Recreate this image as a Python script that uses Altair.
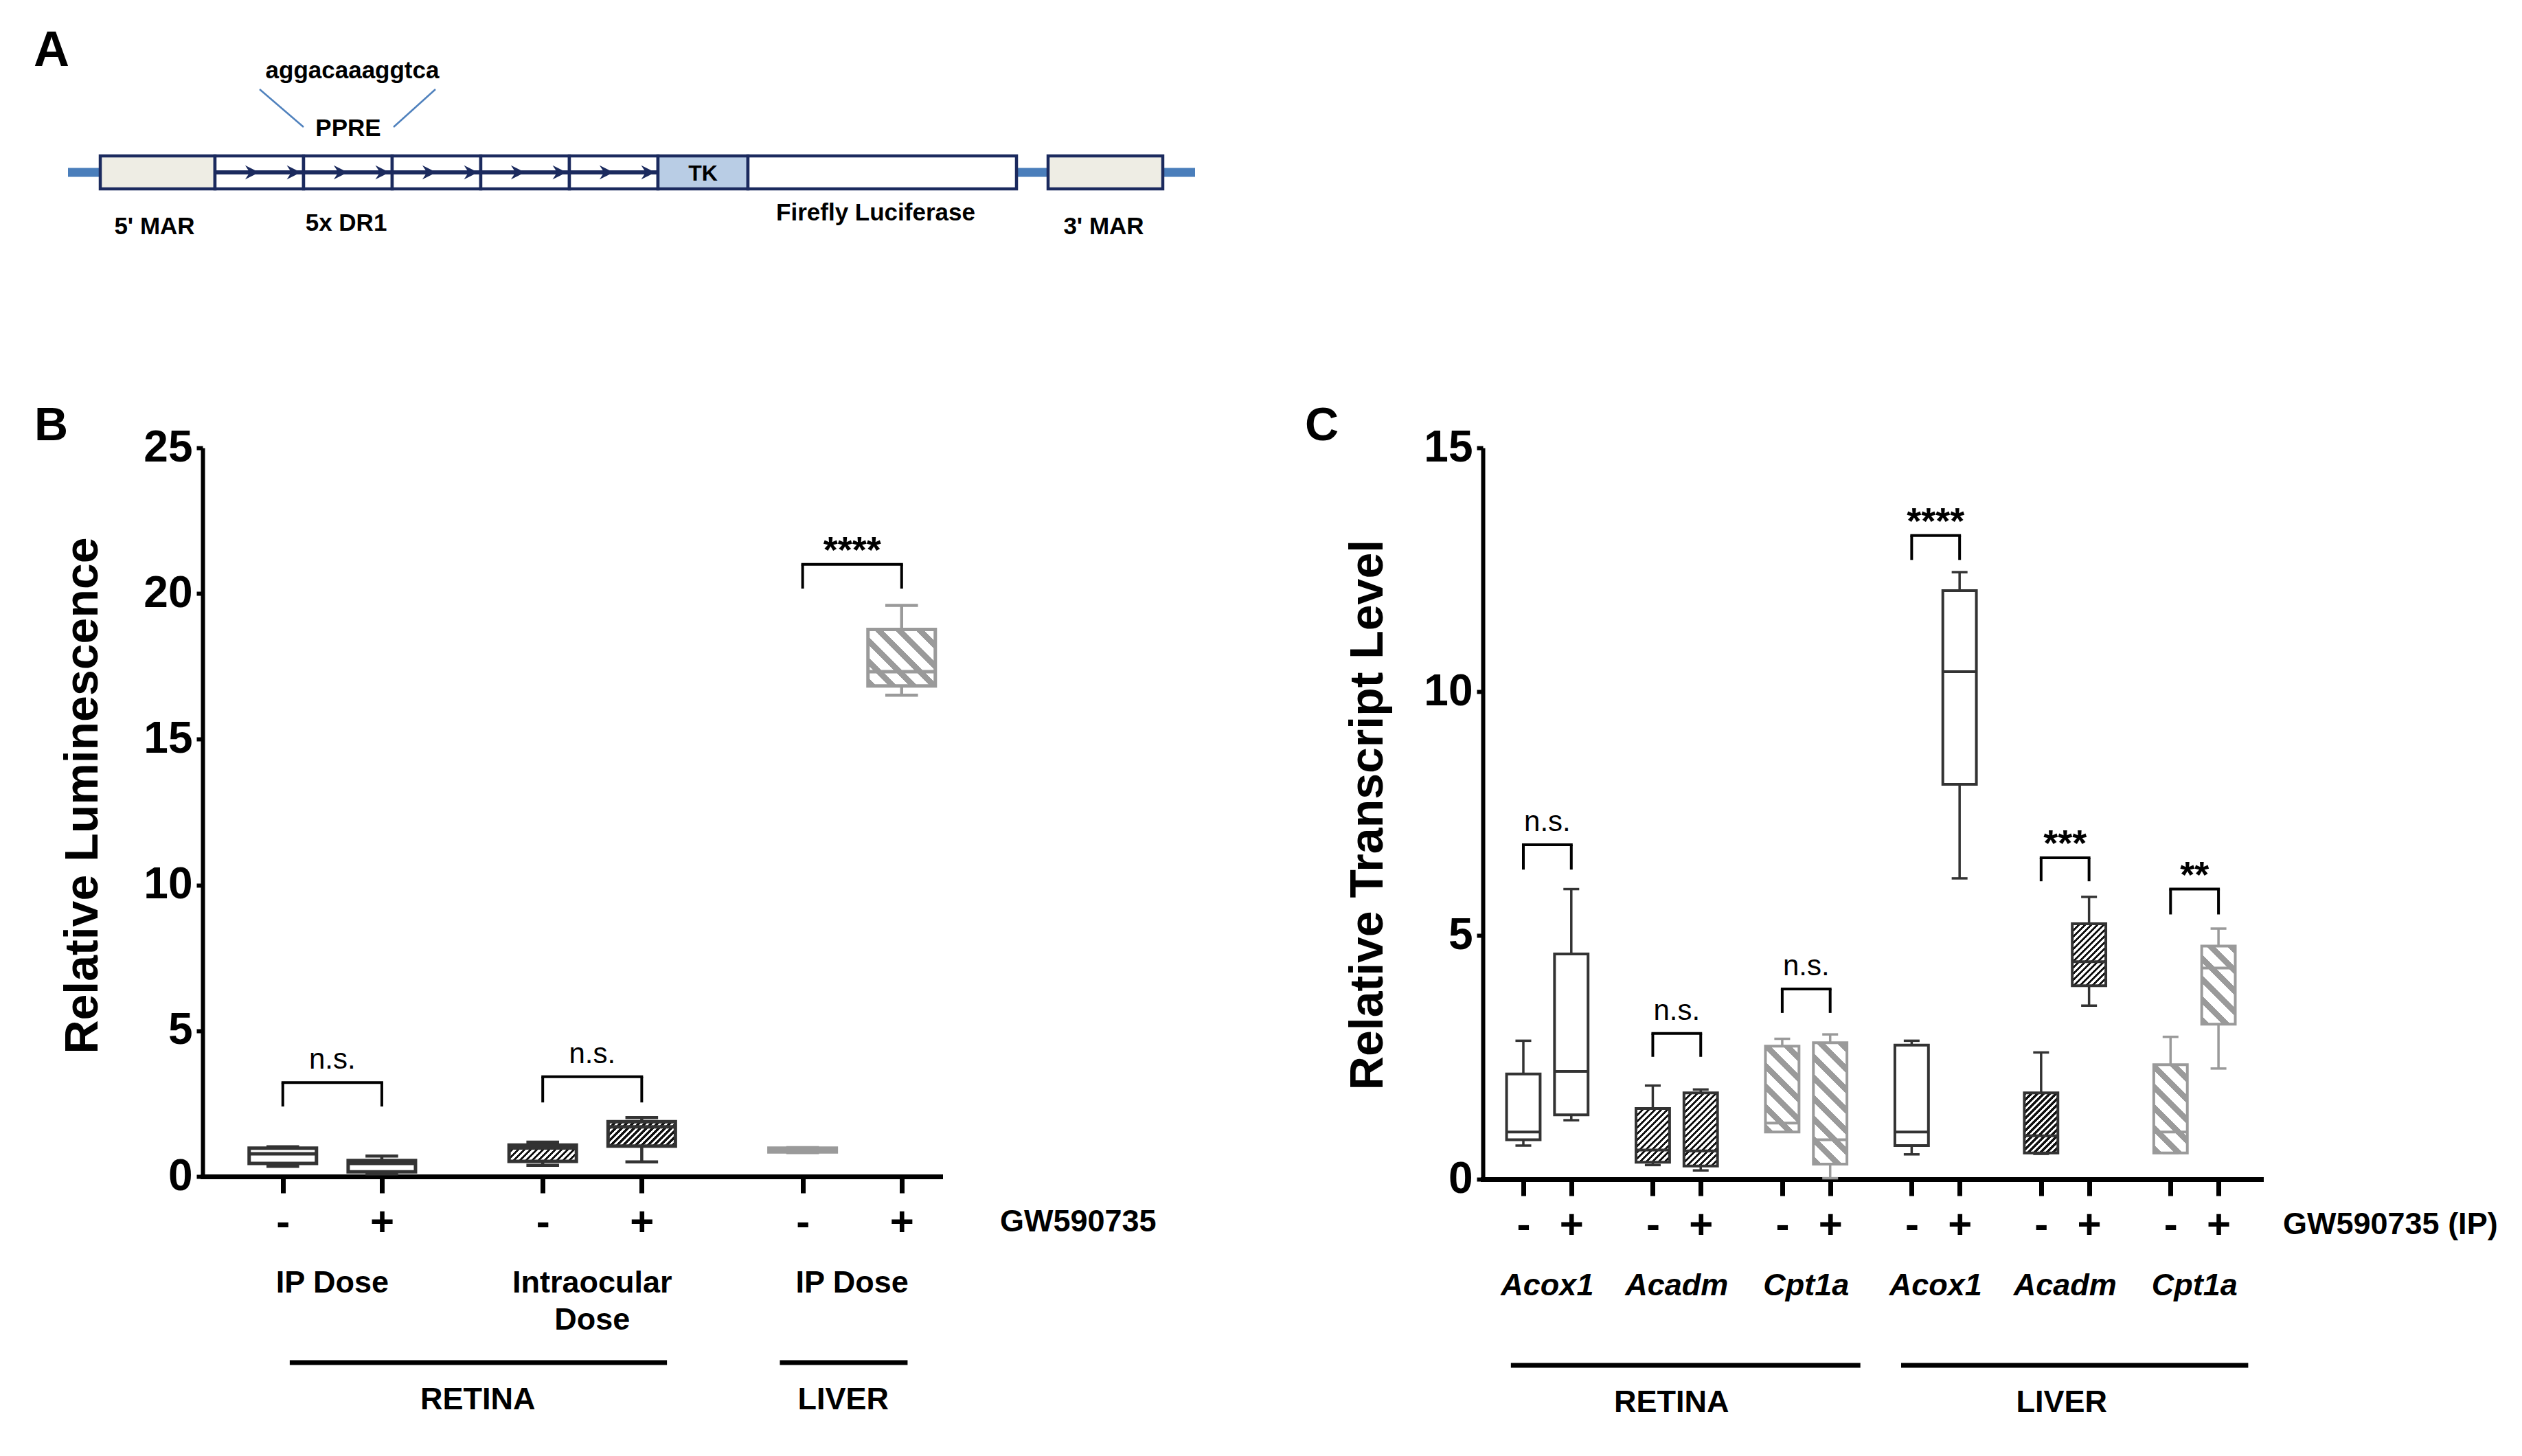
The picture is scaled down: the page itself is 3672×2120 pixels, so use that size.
import altair as alt
import pandas as pd

FONT = "Liberation Sans"
NAVY = "#1B2A5E"
DARK = "#333333"
GREY = "#9A9A9A"

# ---------------- Panel A : reporter construct ----------------
A_names = ["5' MAR", "DR1", "DR1", "DR1", "DR1", "DR1", "TK", "Firefly Luciferase", "spacer", "3' MAR"]
A_kinds = ["mar", "dr1", "dr1", "dr1", "dr1", "dr1", "tk", "luc", "spacer", "mar"]
A_lengths = [167, 129, 129, 129, 129, 129, 131, 391, 46, 167]
A_insert_start = 47
A_backbone = 1641
A_labels = ["5' MAR", "5x DR1", "Firefly Luciferase", "3' MAR"]
A_label_x = [126, 405, 1176, 1508]
A_label_base = [245, 240, 225, 245]
A_sequence = "aggacaaaggtca"

# ---------------- Panel B : luciferase ----------------
B_groups = ["IP Dose", "Intraocular\nDose", "IP Dose"]
B_kinds = ["open", "dark", "grey"]
B_min = [0.35, 0.09, 0.38, 0.50, 0.82, 16.51]
B_q1 = [0.45, 0.16, 0.52, 1.04, 0.84, 16.83]
B_med = [0.78, 0.45, 0.98, 1.70, 0.90, 17.32]
B_q3 = [0.97, 0.55, 1.08, 1.88, 0.97, 18.77]
B_max = [1.02, 0.70, 1.18, 2.02, 0.99, 19.59]
B_sig = ["n.s.", "n.s.", "****"]
B_br_top = [3.22, 3.42, 21.0]
B_br_leg = [2.40, 2.54, 20.17]
B_tissues = ["RETINA", "LIVER"]
B_tissue_span = [(0.07, 3.88), (5.02, 6.31)]
B_tissue_label_x = [1.97, 5.66]
B_yticks = [0, 5, 10, 15, 20, 25]

# ---------------- Panel C : transcripts ----------------
C_groups = ["Acox1", "Acadm", "Cpt1a", "Acox1", "Acadm", "Cpt1a"]
C_kinds = ["open", "dark", "grey", "open", "dark", "grey"]
C_min = [0.69, 1.21, 0.29, 0.18, 0.97, 0.02, 0.51, 6.17, 0.52, 3.56, 0.54, 2.27]
C_q1 = [0.81, 1.32, 0.35, 0.27, 0.97, 0.31, 0.69, 8.10, 0.54, 3.97, 0.54, 3.18]
C_med = [0.97, 2.21, 0.60, 0.58, 1.15, 0.81, 0.97, 10.41, 0.89, 4.46, 0.97, 4.33]
C_q3 = [2.16, 4.62, 1.45, 1.77, 2.73, 2.80, 2.75, 12.07, 1.77, 5.24, 2.35, 4.78]
C_max = [2.84, 5.95, 1.92, 1.84, 2.88, 2.97, 2.84, 12.45, 2.60, 5.79, 2.92, 5.14]
C_sig = ["n.s.", "n.s.", "n.s.", "****", "***", "**"]
C_br_top = [6.86, 2.99, 3.90, 13.20, 6.59, 5.95]
C_br_leg = [6.35, 2.51, 3.41, 12.70, 6.11, 5.43]
C_tissues = ["RETINA", "LIVER"]
C_tissue_span = [(-0.26, 7.03), (7.88, 15.12)]
C_tissue_label_x = [3.09, 11.23]
C_yticks = [0, 5, 10, 15]


def text_chart(txt, x, y, size, weight="bold", align="left", baseline="alphabetic", style="normal"):
    return alt.Chart(pd.DataFrame({"t": [txt]})).mark_text(
        font=FONT, fontSize=size, fontWeight=weight, fontStyle=style, align=align,
        baseline=baseline, color="black").encode(text="t:N", x=alt.value(x), y=alt.value(y))


# ---------------- build panel A ----------------
starts = []
p = A_insert_start
for L in A_lengths:
    starts.append(p)
    p += L
a_df = pd.DataFrame({"name": A_names, "kind": A_kinds, "x0": starts,
                     "x1": [s + L for s, L in zip(starts, A_lengths)]})
a_df["xc"] = (a_df.x0 + a_df.x1) / 2
a_box = a_df[a_df.kind != "spacer"]
dr1 = a_df[a_df.kind == "dr1"]

A_TOP, A_BOT, A_MID = 131, 179, 155
A_VIEW = [196, A_backbone]          # visible window, aligned with panel B's plot area
xa = alt.Scale(domain=A_VIEW, nice=False, zero=False)


def XA(f):
    return alt.X(f, type="quantitative", scale=xa, axis=None)


backbone = alt.Chart(pd.DataFrame({"x0": [0], "x1": [A_backbone]})).mark_rule(
    color="#4A7EBB", strokeWidth=13).encode(x=XA("x0"), x2="x1", y=alt.value(A_MID))
boxes = alt.Chart(a_box).mark_rect(stroke=NAVY, strokeWidth=4.5).encode(
    x=XA("x0"), x2="x1", y=alt.value(A_TOP), y2=alt.value(A_BOT),
    fill=alt.Fill("kind:N", scale=alt.Scale(domain=["mar", "dr1", "tk", "luc"],
                                             range=["#EEEDE4", "#FFFFFF", "#B9CDE5", "#FFFFFF"]),
                  legend=None))
arrow_line = alt.Chart(pd.DataFrame({"x0": [dr1.x0.min()], "x1": [dr1.x1.max()]})).mark_rule(
    color=NAVY, strokeWidth=6).encode(x=XA("x0"), x2="x1", y=alt.value(A_MID))
heads = []
for s, e in zip(dr1.x0, dr1.x1):
    heads += [s + 0.42 * (e - s), s + 0.89 * (e - s)]
arrow_heads = alt.Chart(pd.DataFrame({"ax": heads})).mark_point(
    shape="M-1,-1L1,0L-1,1L-0.35,0Z", filled=True, color=NAVY, size=420, opacity=1).encode(
    x=XA("ax"), y=alt.value(A_MID))
callout = alt.Chart(pd.DataFrame({"x0": [279, 535], "x1": [343, 474]})).mark_rule(
    color="#4F81BD", strokeWidth=2.5).encode(x=XA("x0"), x2="x1", y=alt.value(34), y2=alt.value(89))
tk_row = a_df[a_df.kind == "tk"]
tk_text = alt.Chart(tk_row).mark_text(font=FONT, fontSize=32, fontWeight="bold", baseline="alphabetic",
                                      color="black").encode(x=XA("xc"), y=alt.value(167), text="name:N")
lab_df = pd.DataFrame({"t": A_labels, "x": A_label_x, "b": A_label_base})
a_labels = alt.Chart(lab_df).mark_text(font=FONT, fontSize=35, fontWeight="bold", baseline="alphabetic",
                                       color="black").encode(x=XA("x"), y=alt.Y("b:Q", scale=None), text="t:N")
seq = alt.Chart(pd.DataFrame({"t": [A_sequence, "PPRE"], "x": [414, 408], "b": [18, 102]})).mark_text(
    font=FONT, fontSize=35, fontWeight="bold", baseline="alphabetic", color="black").encode(
    x=XA("x"), y=alt.Y("b:Q", scale=None), text="t:N")
letterA = text_chart("A", -246, 0, 72)

panelA = alt.layer(backbone, boxes, arrow_line, arrow_heads, callout, tk_text, a_labels, seq,
                   letterA).properties(width=A_VIEW[1] - A_VIEW[0], height=250)


# ---------------- box-plot panel builder ----------------
def hatch(w, h, period, frac, color, slash):
    s = w + h
    k = s / (w * w + h * h)
    if slash:
        x1, y1, x2, y2 = 0, 0, k * w, k * h
    else:
        x1, y1, x2, y2 = 0, 1, k * w, 1 - k * h
    step = period / s
    stops = []
    o = 0.0
    while o < 1 - 1e-9:
        e = min(o + frac * step, 1.0)
        stops.append(alt.GradientStop(color=color, offset=round(o, 5)))
        stops.append(alt.GradientStop(color=color, offset=round(e, 5)))
        if e < 1:
            n2 = min(o + step, 1.0)
            stops.append(alt.GradientStop(color="#FFFFFF", offset=round(e, 5)))
            stops.append(alt.GradientStop(color="#FFFFFF", offset=round(n2, 5)))
        o += step
    return alt.LinearGradient(gradient="linear", stops=stops, x1=x1, y1=y1, x2=x2, y2=y2)


def box_panel(groups, kinds, mn, q1, med, q3, mx, sig, brtop, brleg, tissues, tspan, tlab_x,
              yticks, ytitle, xlabel_name, stride, xdom, ydom, width, height, boxw, capw,
              sw, ww, letter, letter_x, title_x, title_y, italic, gw_x):
    ng = len(groups)
    slots = [round(g * stride + t, 4) for g in range(ng) for t in range(2)]
    kind_box = [kinds[g] for g in range(ng) for t in range(2)]
    df = pd.DataFrame({"idx": list(range(len(slots))), "slot": slots, "kind": kind_box,
                       "mn": mn, "q1": q1, "med": med, "q3": q3, "mx": mx})
    df["lo"] = df.slot - boxw / 2
    df["hi"] = df.slot + boxw / 2
    df["cl"] = df.slot - capw / 2
    df["cr"] = df.slot + capw / 2

    xs = alt.Scale(domain=xdom, nice=False, zero=False)
    ys = alt.Scale(domain=ydom, nice=False, zero=False)
    minus = ",".join(str(s) for s in slots[0::2])
    xaxis = alt.Axis(values=slots, labelExpr="indexof([" + minus + "], datum.value) >= 0 ? '-' : '+'",
                     title=None, grid=False, domainColor="black", domainWidth=7, domainCap="square",
                     tickColor="black", tickWidth=7, tickSize=24, labelFont=FONT, labelFontSize=60,
                     labelFontWeight="bold", labelColor="black", labelBaseline="alphabetic",
                     labelPadding=61, labelFlush=False, labelOverlap=False)
    yaxis = alt.Axis(values=yticks, title=ytitle, grid=False, domainColor="black", domainWidth=6,
                     tickColor="black", tickWidth=6, tickSize=9, labelFont=FONT, labelFontSize=64,
                     labelFontWeight="bold", labelColor="black", labelPadding=6, labelFlush=False,
                     labelOverlap=False, titleFont=FONT, titleFontSize=68, titleFontWeight="bold",
                     titleColor="black", titleAngle=270, titleAlign="center", titleBaseline="middle",
                     titleX=title_x, titleY=title_y)

    def X(f):
        return alt.X(f, type="quantitative", scale=xs, axis=xaxis)

    def Y(f):
        return alt.Y(f, type="quantitative", scale=ys, axis=yaxis)

    S = alt.Stroke("kind:N", scale=alt.Scale(domain=["open", "dark", "grey"], range=[DARK, DARK, GREY]),
                   legend=None)
    base = alt.Chart(df)
    layers = [
        base.mark_rule(strokeWidth=ww).encode(x=X("slot"), y=Y("q3"), y2="mx", stroke=S),
        base.mark_rule(strokeWidth=ww).encode(x=X("slot"), y=Y("mn"), y2="q1", stroke=S),
        base.mark_rule(strokeWidth=ww).encode(x=X("cl"), x2="cr", y=Y("mx"), stroke=S),
        base.mark_rule(strokeWidth=ww).encode(x=X("cl"), x2="cr", y=Y("mn"), stroke=S),
        base.transform_filter(alt.datum.kind == "open").mark_rect(fill="#FFFFFF").encode(
            x=X("lo"), x2="hi", y=Y("q1"), y2="q3"),
    ]
    pxx = width / (xdom[1] - xdom[0])
    pxy = height / (ydom[1] - ydom[0])
    for i, r in df.iterrows():
        if r.kind == "open":
            continue
        w = boxw * pxx
        h = max((r.q3 - r.q1) * pxy, 1.0)
        if r.kind == "dark":
            g = hatch(w, h, 9.0, 0.5, "#111111", True)
        else:
            g = hatch(w, h, 30.0, 0.4, GREY, False)
        layers.append(base.transform_filter(alt.datum.idx == int(r.idx)).mark_rect(
            fill=g, strokeWidth=0).encode(x=X("lo"), x2="hi", y=Y("q1"), y2="q3"))
    layers += [
        base.mark_rect(fillOpacity=0, fill="#FFFFFF", strokeWidth=sw).encode(
            x=X("lo"), x2="hi", y=Y("q1"), y2="q3", stroke=S),
        base.mark_rule(strokeWidth=sw).encode(x=X("lo"), x2="hi", y=Y("med"), stroke=S),
    ]
    # significance brackets
    br = pd.DataFrame({"l": slots[0::2], "r": slots[1::2], "top": brtop, "leg": brleg, "sig": sig})
    br["mid"] = (br.l + br.r) / 2
    bb = alt.Chart(br)
    layers += [
        bb.mark_rule(strokeWidth=4, color="black", strokeCap="square").encode(x=X("l"), x2="r", y=Y("top")),
        bb.mark_rule(strokeWidth=4, color="black").encode(x=X("l"), y=Y("leg"), y2="top"),
        bb.mark_rule(strokeWidth=4, color="black").encode(x=X("r"), y=Y("leg"), y2="top"),
        bb.transform_filter(alt.datum.sig == "n.s.").mark_text(
            font=FONT, fontSize=42, baseline="alphabetic", dy=-20, color="black").encode(
            x=X("mid"), y=Y("top"), text="sig:N"),
        bb.transform_filter(alt.datum.sig != "n.s.").mark_text(
            font=FONT, fontSize=54, fontWeight="bold", baseline="alphabetic", dy=-3, color="black").encode(
            x=X("mid"), y=Y("top"), text="sig:N"),
    ]
    # group labels beneath the axis
    gl = pd.DataFrame({"label": groups, "mid": [round(g * stride + 0.5, 4) for g in range(ng)]})
    layers.append(alt.Chart(gl).mark_text(
        font=FONT, fontSize=45, fontWeight="bold", fontStyle="italic" if italic else "normal",
        baseline="alphabetic", lineBreak="\n", lineHeight=54, color="black").encode(
        x=X("mid"), y=alt.value(height + 1232 - 1063), text="label:N"))
    # tissue lines and labels
    tl = pd.DataFrame({"t": tissues, "a": [s[0] for s in tspan], "b": [s[1] for s in tspan],
                       "c": tlab_x})
    layers += [
        alt.Chart(tl).mark_rule(strokeWidth=7, color="black").encode(
            x=X("a"), x2="b", y=alt.value(height + 1334 - 1063)),
        alt.Chart(tl).mark_text(font=FONT, fontSize=45, fontWeight="bold", baseline="alphabetic",
                                color="black").encode(
            x=X("c"), y=alt.value(height + 1402 - 1063), text="t:N"),
    ]
    layers.append(text_chart(xlabel_name, gw_x, height + 1141 - 1061, 45))
    layers.append(text_chart(letter, letter_x, -11, 68))
    return alt.layer(*layers).properties(width=width, height=height)


panelB = box_panel(B_groups, B_kinds, B_min, B_q1, B_med, B_q3, B_max, B_sig, B_br_top, B_br_leg,
                   B_tissues, B_tissue_span, B_tissue_label_x, B_yticks, "Relative Luminescence",
                   "GW590735", 2.625, [-0.81, 6.64], [0, 25], 1074, 1061, 0.68, 0.33, 5, 4.5,
                   "B", -245, -174, 506, False, 1161)
panelC = box_panel(C_groups, C_kinds, C_min, C_q1, C_med, C_q3, C_max, C_sig, C_br_top, C_br_leg,
                   C_tissues, C_tissue_span, C_tissue_label_x, C_yticks, "Relative Transcript Level",
                   "GW590735 (IP)", 2.7, [-0.845, 15.387], [0, 15], 1133, 1065, 0.7, 0.33, 4, 3.5,
                   "C", -259, -167, 534, True, 1165)

row = alt.hconcat(panelB, panelC, spacing=216)
chart = alt.vconcat(panelA, row, spacing=239).properties(
    padding={"left": 41, "top": 30, "right": 5, "bottom": 5}, background="white"
).configure_view(stroke=None)

chart.save("out.html", embed_options={"renderer": "svg", "actions": False})
